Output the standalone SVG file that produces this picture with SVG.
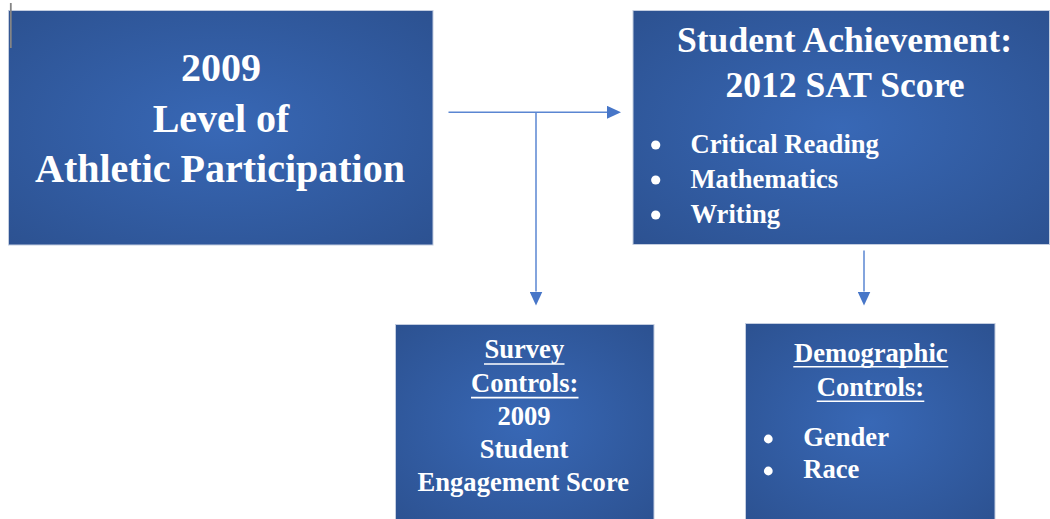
<svg xmlns="http://www.w3.org/2000/svg" width="1050" height="519" viewBox="0 0 1050 519">
  <defs>
    <radialGradient id="boxFill" cx="0.5" cy="0.5" r="0.72">
      <stop offset="0" stop-color="#3868b6"/>
      <stop offset="1" stop-color="#2c5190"/>
    </radialGradient>
    <marker id="arrow" markerUnits="userSpaceOnUse" markerWidth="14" markerHeight="13" viewBox="0 0 14 13" refX="0" refY="6.5" orient="auto">
      <path d="M0,0 L14,6.5 L0,13 z" fill="#4776c8"/>
    </marker>
  </defs>
  <style>
    .box { fill: url(#boxFill); stroke: #c3cde0; stroke-width: 1; }
    .t { font-family: "Liberation Serif", "Times New Roman", serif; font-weight: bold; fill: #ffffff; }
    .mid { text-anchor: middle; }
    .ul { stroke: #ffffff; stroke-width: 1.6; }
    .dot { fill: #ffffff; }
    .conn { stroke: #5a86d2; stroke-width: 1.5; fill: none; }
  </style>

  <rect width="1050" height="519" fill="#ffffff"/>

  <g id="node-athletic">
    <rect class="box" x="8.5" y="10.5" width="424.5" height="234.5"/>
    <text class="t mid" x="221" y="81" font-size="40">2009</text>
    <text class="t mid" x="221" y="131.5" font-size="40">Level of</text>
    <text class="t mid" x="220" y="182" font-size="40">Athletic Participation</text>
  </g>

  <!-- editing caret in the top-left corner -->
  <line x1="10.8" y1="3" x2="10.8" y2="48" stroke="#858585" stroke-width="1.8"/>

  <g id="node-achievement">
    <rect class="box" x="633" y="10.5" width="416.5" height="234"/>
    <text class="t mid" x="844.5" y="52" font-size="35.6">Student Achievement:</text>
    <text class="t mid" x="845" y="97" font-size="35.6">2012 SAT Score</text>
    <circle class="dot" cx="655.7" cy="145" r="4.6"/>
    <circle class="dot" cx="655.7" cy="180" r="4.6"/>
    <circle class="dot" cx="655.7" cy="215" r="4.6"/>
    <text class="t" x="690.5" y="152.7" font-size="26.6">Critical Reading</text>
    <text class="t" x="690.5" y="187.7" font-size="26.6">Mathematics</text>
    <text class="t" x="690.5" y="222.7" font-size="26.6">Writing</text>
  </g>

  <g id="node-survey">
    <rect class="box" x="395.5" y="324.5" width="258.5" height="200"/>
    <text class="t mid" x="524.3" y="358.3" font-size="26.6">Survey</text>
    <line class="ul" x1="484" y1="364" x2="564.5" y2="364"/>
    <text class="t mid" x="524.7" y="391.7" font-size="26.6">Controls:</text>
    <line class="ul" x1="471" y1="397.6" x2="578.5" y2="397.6"/>
    <text class="t mid" x="524" y="425" font-size="26.6">2009</text>
    <text class="t mid" x="524" y="458.3" font-size="26.6">Student</text>
    <text class="t mid" x="523.3" y="490.7" font-size="26.6">Engagement Score</text>
  </g>

  <g id="node-demographic">
    <rect class="box" x="745.5" y="323.5" width="249.5" height="200"/>
    <text class="t mid" x="870.8" y="361.7" font-size="26.6">Demographic</text>
    <line class="ul" x1="793.3" y1="366.8" x2="948.3" y2="366.8"/>
    <text class="t mid" x="870.5" y="396" font-size="26.6">Controls:</text>
    <line class="ul" x1="816.7" y1="401.2" x2="924.3" y2="401.2"/>
    <circle class="dot" cx="768.3" cy="439" r="4.4"/>
    <circle class="dot" cx="768.3" cy="471" r="4.4"/>
    <text class="t" x="803.3" y="446" font-size="26.6">Gender</text>
    <text class="t" x="803.3" y="478.3" font-size="26.6">Race</text>
  </g>

  <g id="connectors">
    <path class="conn" d="M448.5,112.3 H607" marker-end="url(#arrow)"/>
    <path class="conn" d="M536,112.3 V291.5" marker-end="url(#arrow)"/>
    <path class="conn" d="M864,250.5 V291.5" marker-end="url(#arrow)"/>
  </g>
</svg>
